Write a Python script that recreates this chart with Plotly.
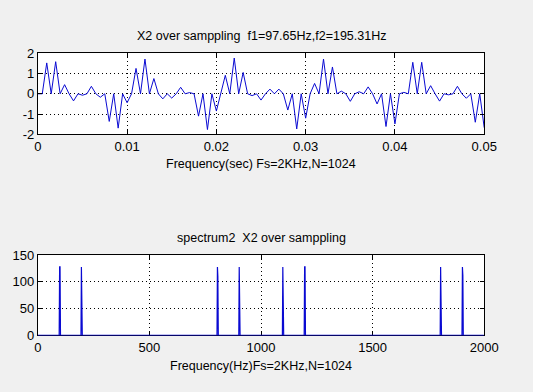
import plotly.graph_objects as go

fs = 2000
nfft = 1024

# time-domain samples of X2, t = n / fs
x2_samples = [
    0, 0, 1.52, 0, 1.58, 0, 0.45, 0, -0.35, 0,
    -0.07, 0, 0.37, 0, -0.17, 0, -1.36, 0, -1.69, 0,
    -0.44, 0, 1.25, 0, 1.71, 0, 0.75, 0, -0.25, 0,
    -0.21, 0, 0.32, 0, 0.06, 0, -1.10, 0, -1.76, 0,
    -0.85, 0, 0.91, 0, 1.76, 0, 1.05, 0, -0.09, 0,
    -0.31, 0, 0.23, 0, 0.23, 0, -0.80, 0, -1.73, 0,
    -1.20, 0, 0.51, 0, 1.71, 0, 1.32, 0, 0.13, 0,
    -0.37, 0, 0.10, 0, 0.34, 0, -0.50, 0, -1.61, 0,
    -1.48, 0, 0.07, 0, 1.55, 0, 1.55, 0, 0.40, 0,
    -0.36, 0, -0.05, 0, 0.37, 0, -0.22, 0, -1.40, 0,
    -1.67,
]
t_sec = [n / fs for n in range(len(x2_samples))]

# spectrum: FFT bins (k * fs / nfft) with non-zero magnitude
spike_bins = [50, 51, 100, 412, 413, 462, 562, 612, 613, 924, 974, 975]
spike_heights = [128, 128, 128, 128, 110, 128, 128, 128, 128, 128, 128, 112]
spectrum = [0.0] * nfft
for b, h in zip(spike_bins, spike_heights):
    spectrum[b] = h
freq_hz = [k * fs / nfft for k in range(nfft)]

top_xticks = [0, 0.01, 0.02, 0.03, 0.04, 0.05]
top_xlabels = ["0", "0.01", "0.02", "0.03", "0.04", "0.05"]
top_yticks = [-2, -1, 0, 1, 2]
top_ylabels = ["-2", "-1", "0", "1", "2"]
bot_xticks = [0, 500, 1000, 1500, 2000]
bot_xlabels = ["0", "500", "1000", "1500", "2000"]
bot_yticks = [0, 50, 100, 150]
bot_ylabels = ["0", "50", "100", "150"]

W, H = 533, 392
FONT = "Liberation Sans, Arial, Helvetica, sans-serif"
BLUE = "#0a0ad2"

fig = go.Figure()
fig.add_trace(go.Scatter(x=t_sec, y=x2_samples, mode="lines",
                         line=dict(color=BLUE, width=1), xaxis="x", yaxis="y",
                         hoverinfo="skip"))
fig.add_trace(go.Scatter(x=freq_hz, y=spectrum, mode="lines",
                         line=dict(color=BLUE, width=1.2), xaxis="x2", yaxis="y2",
                         hoverinfo="skip"))

common = dict(showline=True, linecolor="black", linewidth=1, mirror="ticks",
              ticks="inside", ticklen=4, tickcolor="black", tickwidth=1,
              showgrid=True, gridcolor="black", gridwidth=1, griddash="1px,3px",
              zeroline=False, tickfont=dict(family=FONT, size=13, color="black"))

xdom = [35 / W, 497 / W]
fig.update_layout(
    width=W, height=H,
    margin=dict(l=0, r=0, t=0, b=0),
    paper_bgcolor="#f0f0f0", plot_bgcolor="white",
    showlegend=False,
    xaxis=dict(domain=xdom, range=[0, 0.05], tickvals=top_xticks, ticktext=top_xlabels,
               anchor="y", **common),
    yaxis=dict(domain=[1 - 132.5 / H, 1 - 48 / H], range=[-2, 2], tickvals=top_yticks,
               ticktext=top_ylabels, anchor="x", **common),
    xaxis2=dict(domain=xdom, range=[0, 2000], tickvals=bot_xticks, ticktext=bot_xlabels,
                anchor="y2", layer="below traces", **common),
    yaxis2=dict(domain=[1 - 341.5 / H, 1 - 258 / H], range=[0, 150], tickvals=bot_yticks,
                ticktext=bot_ylabels, anchor="x2", **common),
)

xc = (xdom[0] + xdom[1]) / 2
texts = [
    ("X2 over samppling  f1=97.65Hz,f2=195.31Hz", 30),
    ("Frequency(sec) Fs=2KHz,N=1024", 163),
    ("spectrum2  X2 over samppling", 240),
    ("Frequency(Hz)Fs=2KHz,N=1024", 373),
]
for txt, ypx in texts:
    fig.add_annotation(text=txt, xref="paper", yref="paper", x=xc, y=1 - ypx / H,
                       xanchor="center", yanchor="middle", showarrow=False,
                       font=dict(family=FONT, size=12.5, color="black"))

fig.write_html("out.html", config={"displayModeBar": False},
               post_script="document.body.style.margin='0';document.body.style.overflow='hidden';")
